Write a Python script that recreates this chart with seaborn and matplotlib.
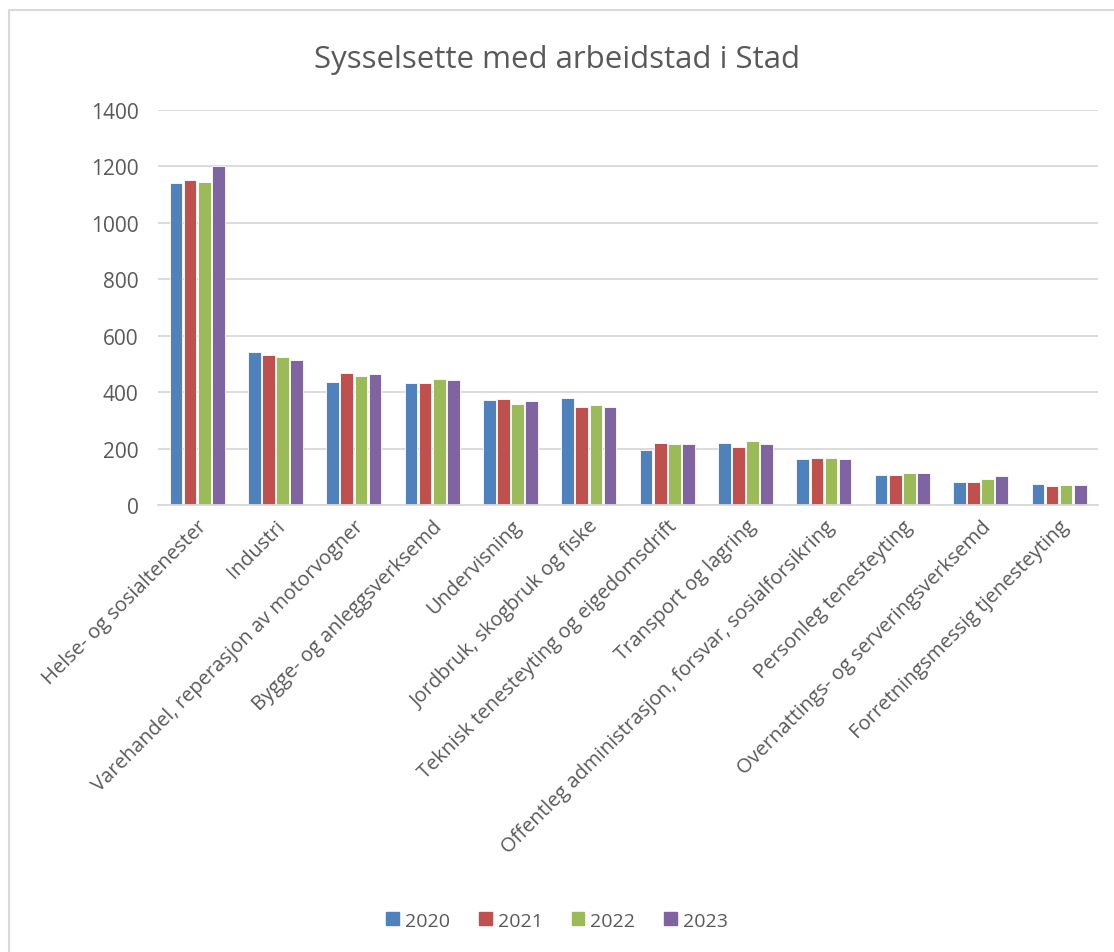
import pandas as pd
import numpy as np
import matplotlib.pyplot as plt
import matplotlib.patches as mpatches
from matplotlib.lines import Line2D
import seaborn as sns

sns.set_style("white")
plt.rcParams["font.family"] = ["Open Sans", "DejaVu Sans"]

# data
naeringar = ["Helse- og sosialtenester", "Industri",
             "Varehandel, reperasjon av motorvogner", "Bygge- og anleggsverksemd",
             "Undervisning", "Jordbruk, skogbruk og fiske",
             "Teknisk tenesteyting og eigedomsdrift", "Transport og lagring",
             "Offentleg administrasjon, forsvar, sosialforsikring",
             "Personleg tenesteyting", "Overnattings- og serveringsverksemd",
             "Forretningsmessig tjenesteyting"]
years = ["2020", "2021", "2022", "2023"]
v2020 = [1140, 541, 437, 432, 372, 380, 195, 220, 163, 108, 82, 76]
v2021 = [1151, 532, 469, 432, 376, 348, 220, 207, 168, 108, 82, 67]
v2022 = [1146, 523, 456, 445, 359, 353, 217, 226, 168, 114, 91, 72]
v2023 = [1200, 514, 464, 442, 367, 348, 217, 217, 163, 114, 104, 72]

farger = ["#4F81BD", "#C0504D", "#9BBB59", "#8064A2"]
tekst = "#595959"

df = pd.DataFrame({
    "naering": naeringar * 4,
    "aar": np.repeat(years, len(naeringar)),
    "tal": v2020 + v2021 + v2022 + v2023,
})

fig = plt.figure(figsize=(11.14, 9.53), dpi=100)
ax = fig.add_axes([0.1418, 0.469, 0.844, 0.4145])

sns.barplot(data=df, x="naering", y="tal", hue="aar", order=naeringar,
            hue_order=years, palette=farger, saturation=1, width=0.72, gap=0.1,
            edgecolor="white", linewidth=0.6, ax=ax, legend=False)

ax.set_ylim(0, 1400)
ax.set_yticks(range(0, 1401, 200))
ax.set_xlim(-0.5, len(naeringar) - 0.5)
ax.yaxis.grid(True, color="#D9D9D9", linewidth=1.3)
ax.set_axisbelow(True)
for s in ["top", "right", "left"]:
    ax.spines[s].set_visible(False)
ax.spines["bottom"].set_color("#D9D9D9")
ax.spines["bottom"].set_linewidth(1.3)
ax.tick_params(axis="both", length=0, colors=tekst)
ax.tick_params(axis="y", pad=14, labelsize=15)
ax.tick_params(axis="x", pad=8, labelsize=14.5)
ax.set_xlabel("")
ax.set_ylabel("")
ax.set_xticks(range(len(naeringar)))
ax.set_xticklabels(naeringar, rotation=45, ha="right", rotation_mode="anchor")
for lab in ax.get_xticklabels():
    lab.set_color(tekst)

fig.text(0.5, 0.937, "Sysselsette med arbeidstad i Stad", ha="center", va="center",
         fontsize=22.5, color=tekst)

handles = [mpatches.Patch(color=c, label=y) for c, y in zip(farger, years)]
fig.legend(handles=handles, loc="center", bbox_to_anchor=(0.5, 0.033), ncol=4,
           frameon=False, fontsize=14, handlelength=0.65, handleheight=0.65,
           handletextpad=0.3, columnspacing=1.5, labelcolor=tekst)

# ramme: berre venstre og topp synleg i utsnittet
fig.lines.append(Line2D([0.0085, 0.0085, 1.0], [0.0, 0.9885, 0.9885], transform=fig.transFigure,
                        color="#D9D9D9", linewidth=1.5))

fig.savefig("out.png", dpi=100)
